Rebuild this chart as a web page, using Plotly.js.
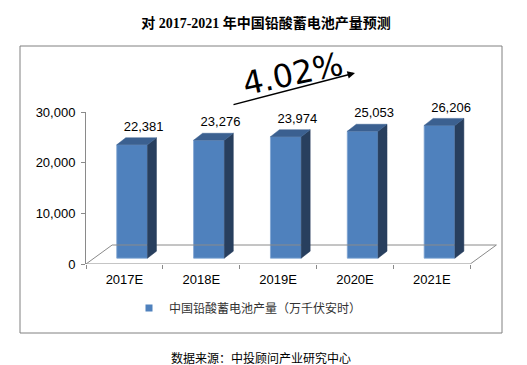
<!DOCTYPE html>
<html>
<head>
<meta charset="utf-8">
<script src="https://cdn.plot.ly/plotly-3.0.1.min.js"></script>
<style>html,body{margin:0;padding:0;background:#fff;}#chart{width:527px;height:365px;}</style>
</head>
<body>
<div id="chart"></div>
<script>
// ---- data ----
const categories = ["2017E", "2018E", "2019E", "2020E", "2021E"];
const values = [22381, 23276, 23974, 25053, 26206];
const seriesName = "中国铅酸蓄电池产量（万千伏安时）";
const yTickVals = [0, 10000, 20000, 30000];
const yTickText = ["0", "10,000", "20,000", "30,000"];
const growthLabel = "4.02%";
const titleText = "对 2017-2021 年中国铅酸蓄电池产量预测";
const sourceText = "数据来源：中投顾问产业研究中心";

// ---- 3D illusion parameters (styling) ----
const xs = categories.map((c, i) => i);
const baseY = 1150;
const barOffset = -0.1, barWidth = 0.4;
const depthX = 0.117, depthY = 1380;
const floorDX = 0.34, floorDY = 3750;
const labelGap = 700;

const frontColor = '#4F81BD', sideColor = '#283F5E', topColor = '#3B6090', greyColor = '#8A8A8A';

const floorTrace = {
  type: 'scatter', mode: 'lines', hoverinfo: 'skip', showlegend: false,
  x: [-0.5, 4.5, 4.5 + floorDX, -0.5 + floorDX, -0.5],
  y: [0, 0, floorDY, floorDY, 0],
  line: {color: greyColor, width: 1}, cliponaxis: false
};

const barTrace = {
  type: 'bar', x: xs, y: values, base: baseY, offset: barOffset, width: barWidth,
  marker: {color: frontColor, line: {color: '#7FA4D2', width: 0.8}},
  hoverinfo: 'skip', showlegend: false
};

const sx = [], sy = [], tx = [], ty = [];
values.forEach((v, i) => {
  const l = i + barOffset, r = l + barWidth, t = baseY + v;
  sx.push(r, r + depthX, r + depthX, r, r, null);
  sy.push(baseY, baseY + depthY, t + depthY, t, baseY, null);
  tx.push(l, r, r + depthX, l + depthX, l, null);
  ty.push(t, t, t + depthY, t + depthY, t, null);
});
const sideTrace = {type: 'scatter', mode: 'lines', x: sx, y: sy, fill: 'toself', fillcolor: sideColor,
  line: {color: sideColor, width: 0.5}, hoverinfo: 'skip', showlegend: false, cliponaxis: false};
const topTrace = {type: 'scatter', mode: 'lines', x: tx, y: ty, fill: 'toself', fillcolor: topColor,
  line: {color: topColor, width: 0.5}, hoverinfo: 'skip', showlegend: false, cliponaxis: false};

const labelTrace = {
  type: 'scatter', mode: 'text', x: xs.map(i => i + 0.25),
  y: values.map(v => v + baseY + depthY + labelGap),
  text: values.map(v => v.toLocaleString('en-US')),
  textposition: 'top center', textfont: {family: 'Liberation Sans, Arial', size: 13, color: '#000'},
  hoverinfo: 'skip', showlegend: false, cliponaxis: false
};

const legendTrace = {
  type: 'scatter', mode: 'markers', x: [null], y: [null], name: seriesName,
  marker: {symbol: 'square', size: 7, color: frontColor}, showlegend: true
};

const L = 86, R = 26, T = 112, B = 101;
const W = 527 - L - R, H = 365 - T - B;
const px = v => (v - L) / W;
const py = v => (365 - B - v) / H;

const layout = {
  width: 527, height: 365,
  margin: {l: L, r: R, t: T, b: B, autoexpand: false},
  paper_bgcolor: '#fff', plot_bgcolor: 'rgba(0,0,0,0)',
  title: {text: titleText, x: 266 / 527, xanchor: 'center', y: 1 - 23 / 365, yanchor: 'middle',
    font: {family: 'Liberation Serif, Noto Sans CJK SC', size: 14, color: '#000', weight: 'bold'}},
  showlegend: true,
  legend: {orientation: 'h', x: px(129), xanchor: 'left', y: py(308), yanchor: 'middle',
    font: {family: 'Noto Sans CJK SC', size: 12, color: '#333'}, bgcolor: 'rgba(0,0,0,0)'},
  xaxis: {range: [-0.5, 4.9], showline: false, zeroline: false, showgrid: false,
    tickmode: 'array', tickvals: xs, ticktext: categories, ticks: '',
    ticklabelstandoff: 6,
    tickfont: {family: 'Liberation Sans, Arial', size: 13, color: '#000'},
    minor: {tickmode: 'linear', tick0: -0.5, dtick: 1, ticks: 'outside', ticklen: 4, tickcolor: greyColor, showgrid: false}},
  yaxis: {range: [0, 30000], showline: true, linecolor: greyColor, linewidth: 1, zeroline: false, showgrid: false,
    tickmode: 'array', tickvals: yTickVals, ticktext: yTickText, ticks: 'outside', ticklen: 4, tickcolor: greyColor,
    ticklabelstandoff: 3,
    tickfont: {family: 'Liberation Sans, Arial', size: 13, color: '#000'}},
  shapes: [{type: 'rect', xref: 'paper', yref: 'paper', x0: px(20), x1: px(502), y0: py(333), y1: py(46),
    line: {color: '#808080', width: 1}, fillcolor: 'rgba(0,0,0,0)', layer: 'below'}],
  annotations: [
    {xref: 'paper', yref: 'paper', x: px(355), y: py(73), ax: -123, ay: 32, text: '', showarrow: true,
      arrowhead: 2, arrowsize: 1, arrowwidth: 1.5, arrowcolor: '#000'},
    {xref: 'paper', yref: 'paper', x: px(293), y: py(74), xanchor: 'center', yanchor: 'middle',
      text: growthLabel, showarrow: false,
      textangle: -12, font: {family: 'DejaVu Sans', size: 32, color: '#000'}},
    {xref: 'paper', yref: 'paper', x: px(261), y: py(357), xanchor: 'center', yanchor: 'middle',
      text: sourceText, showarrow: false,
      font: {family: 'Noto Sans CJK SC', size: 12, color: '#000'}}
  ]
};

Plotly.newPlot('chart', [floorTrace, barTrace, sideTrace, topTrace, labelTrace, legendTrace], layout, {staticPlot: true});
</script>
</body>
</html>
